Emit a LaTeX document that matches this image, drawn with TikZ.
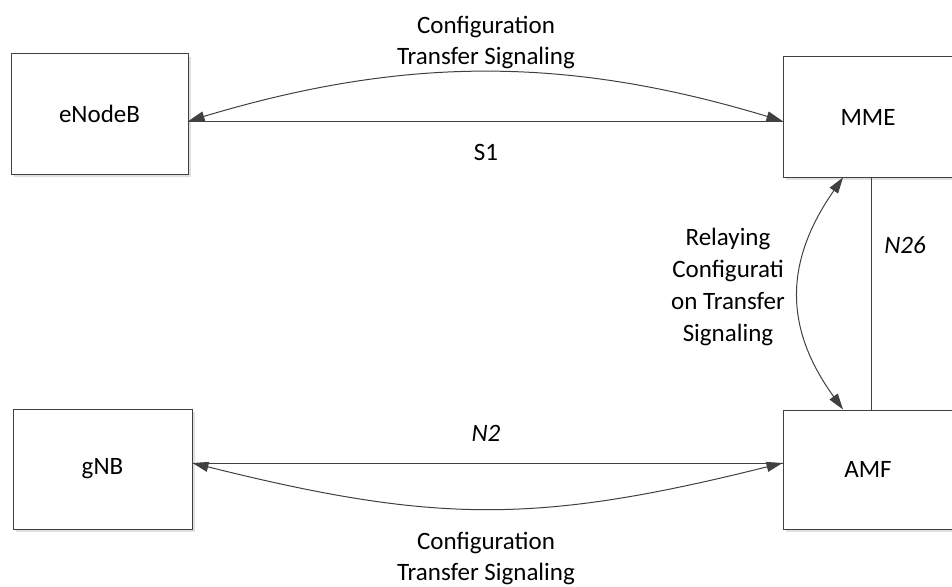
\documentclass[tikz,border=0pt]{standalone}
\usepackage{fontspec}
\setmainfont{Carlito}
\usetikzlibrary{arrows.meta,shadows}
\begin{document}
\begin{tikzpicture}[x=1pt,y=-1pt,
  lc/.style={draw=black!75, line width=1pt},
  box/.style={lc, fill=white, minimum width=#1, minimum height=120pt, inner sep=0pt,
     drop shadow={shadow xshift=3pt, shadow yshift=-3pt, fill=black!12, opacity=1}},
  box/.default=177pt,
  tips/.style={{Triangle[length=16pt,width=10pt]}-{Triangle[length=16pt,width=10pt]}},
  lbl/.style={align=center, font=\fontsize{25}{31}\selectfont, inner sep=0pt}
]
\useasboundingbox (0,0) rectangle (952,586);
\node[box=177pt] (enb) at (99.5,114) {};
\node[box=170pt] (mme) at (868,117) {};
\node[box=179pt] (gnb) at (102.5,469) {};
\node[box=170pt, minimum height=119pt] (amf) at (868,469.5) {};
\node[lbl] at (enb.center) {eNodeB};
\node[lbl] at (mme.center) {MME};
\node[lbl] at (gnb.center) {gNB};
\node[lbl] at (amf.center) {AMF};
% S1
\draw[lc] (enb.east |- 0,121) -- (mme.west |- 0,121);
\draw[lc,tips] (enb.east |- 0,121) .. controls (405,56) and (567,56) .. (mme.west |- 0,121);
% N2
\draw[lc] (gnb.east |- 0,463) -- (amf.west |- 0,463);
\draw[lc,tips] (gnb.east |- 0,463) .. controls (437,524) and (538,524) .. (amf.west |- 0,463);
% N26
\draw[lc] (mme.south -| 871,0) -- (amf.north -| 871,0);
% relaying
\draw[lc,tips] (mme.south -| 843,0) .. controls (784,262) and (784,328) .. (amf.north -| 843,0);
% labels
\node[lbl] (t1) at (486,43) {Configuration\\Transfer Signaling};
\node[lbl] (s1) at (486,152) {S1};
\node[lbl] (n2) at (486,433) {\itshape N2};
\node[lbl] (t2) at (486,558) {Configuration\\Transfer Signaling};
\node[lbl, font=\fontsize{25}{32}\selectfont] (t3) at (728,287) {Relaying\\Configurati\\on Transfer\\Signaling};
\node[lbl] (n26) at (905,245) {\itshape N26};
\end{tikzpicture}
\end{document}
